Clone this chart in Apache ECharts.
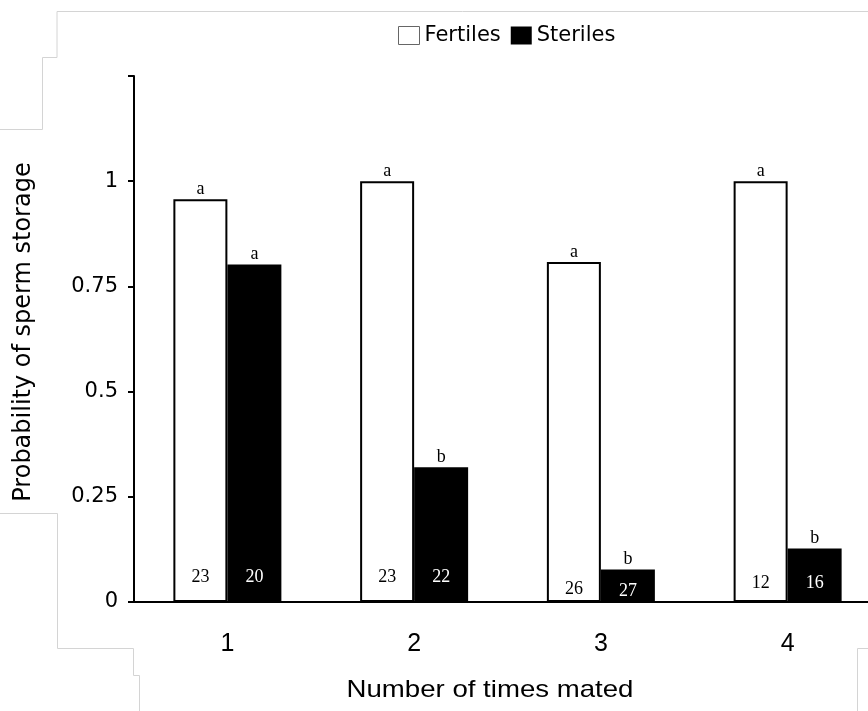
<!DOCTYPE html>
<html>
<head>
<meta charset="utf-8">
<script src="https://cdn.jsdelivr.net/npm/echarts@6/dist/echarts.min.js"></script>
<style>
html,body{margin:0;padding:0;background:#fff;}
#main{width:868px;height:711px;}
</style>
</head>
<body>
<div id="main"></div>
<script>
const categories = ['1', '2', '3', '4'];
const fertiles = [0.957, 1.0, 0.808, 1.0];
const steriles = [0.802, 0.32, 0.077, 0.127];
const fertileLetters = ['a', 'a', 'a', 'a'];
const sterileLetters = ['a', 'b', 'b', 'b'];
const fertileCounts = [23, 23, 26, 12];
const sterileCounts = [20, 22, 27, 16];
const yTicks = [0, 0.25, 0.5, 0.75, 1];

// vertical lift (px) of the sample-size labels above the baseline
const fertileLift = [25, 25, 13, 19];
const sterileLift = [25, 25, 11, 19];

const chart = echarts.init(document.getElementById('main'), null, {renderer: 'canvas'});

const letterLabel = {
  show: true, position: 'top', distance: 1,
  fontFamily: 'Liberation Serif', fontSize: 18, color: '#000'
};

function countPoints(counts, lift, color) {
  return counts.map((c, i) => ({
    coord: [i, 0], value: c,
    label: {offset: [0, -lift[i]], color: color}
  }));
}

const grayLines = [
  [[57, 11.5], [868, 11.5]],
  [[57, 11.5], [57, 57.5]],
  [[42.5, 57.5], [57, 57.5]],
  [[42.5, 57.5], [42.5, 129.5]],
  [[0, 129.5], [42.5, 129.5]],
  [[0, 513.5], [57.5, 513.5]],
  [[57.5, 513.5], [57.5, 648.5]],
  [[57.5, 648.5], [133.5, 648.5]],
  [[133.5, 648.5], [133.5, 675.5]],
  [[133.5, 675.5], [139.5, 675.5]],
  [[139.5, 675.5], [139.5, 711]],
  [[857.5, 648.5], [868, 648.5]],
  [[857.5, 648.5], [857.5, 711]]
];

const option = {
  backgroundColor: '#ffffff',
  animation: false,
  legend: {
    left: 393, top: 20,
    icon: 'rect', itemWidth: 21, itemHeight: 18, itemGap: 10,
    textStyle: {fontFamily: 'DejaVu Sans', fontSize: 21, color: '#000'},
    data: [
      {name: 'Fertiles', itemStyle: {color: '#fff', borderColor: '#666', borderWidth: 1}},
      {name: 'Steriles', itemStyle: {color: '#000', borderWidth: 0}}
    ]
  },
  grid: {left: 134, width: 747, top: 76, height: 526, containLabel: false, outerBoundsMode: 'none'},
  xAxis: {
    type: 'category',
    data: categories,
    axisLine: {show: true, lineStyle: {color: '#000', width: 2}},
    axisTick: {show: false},
    axisLabel: {fontFamily: 'Liberation Sans', fontSize: 25, color: '#000', margin: 30}
  },
  yAxis: {
    type: 'value',
    min: 0, max: 1.25, interval: 0.25,
    splitLine: {show: false},
    axisLine: {show: true, lineStyle: {color: '#000', width: 2}},
    axisTick: {show: true, length: 6, lineStyle: {color: '#000', width: 2}},
    axisLabel: {
      fontFamily: 'DejaVu Sans', fontSize: 21, color: '#000', margin: 16,
      formatter: v => (yTicks.indexOf(v) >= 0 ? String(v) : '')
    }
  },
  series: [
    {
      name: 'Fertiles', type: 'bar', data: fertiles,
      barWidth: 54, barGap: '0%',
      itemStyle: {color: '#fff', borderColor: '#000', borderWidth: 2},
      label: Object.assign({}, letterLabel, {formatter: p => fertileLetters[p.dataIndex]}),
      markPoint: {
        symbol: 'rect', symbolSize: 1,
        itemStyle: {color: 'rgba(0,0,0,0)'},
        label: {show: true, position: 'inside', formatter: '{c}',
          fontFamily: 'Liberation Serif', fontSize: 18},
        data: countPoints(fertileCounts, fertileLift, '#000')
      }
    },
    {
      name: 'Steriles', type: 'bar', data: steriles,
      barWidth: 54,
      itemStyle: {color: '#000'},
      label: Object.assign({}, letterLabel, {formatter: p => sterileLetters[p.dataIndex]}),
      markPoint: {
        symbol: 'rect', symbolSize: 1,
        itemStyle: {color: 'rgba(0,0,0,0)'},
        label: {show: true, position: 'inside', formatter: '{c}',
          fontFamily: 'Liberation Serif', fontSize: 18},
        data: countPoints(sterileCounts, sterileLift, '#fff')
      }
    }
  ],
  graphic: [
    {
      type: 'text', x: 24, y: 332, rotation: Math.PI / 2,
      style: {text: 'Probability of sperm storage', font: '24px "DejaVu Sans"',
        fill: '#000', textAlign: 'center', textVerticalAlign: 'middle'}
    },
    {
      type: 'text', x: 490, y: 690, scaleX: 1.15,
      style: {text: 'Number of times mated', font: '24px "Liberation Sans"',
        fill: '#000', textAlign: 'center', textVerticalAlign: 'middle'}
    }
  ].concat(grayLines.map(pts => ({
    type: 'polyline', z: -10, silent: true,
    shape: {points: pts},
    style: {stroke: '#d4d4d4', lineWidth: 1, fill: null}
  })))
};

chart.setOption(option);
</script>
</body>
</html>
